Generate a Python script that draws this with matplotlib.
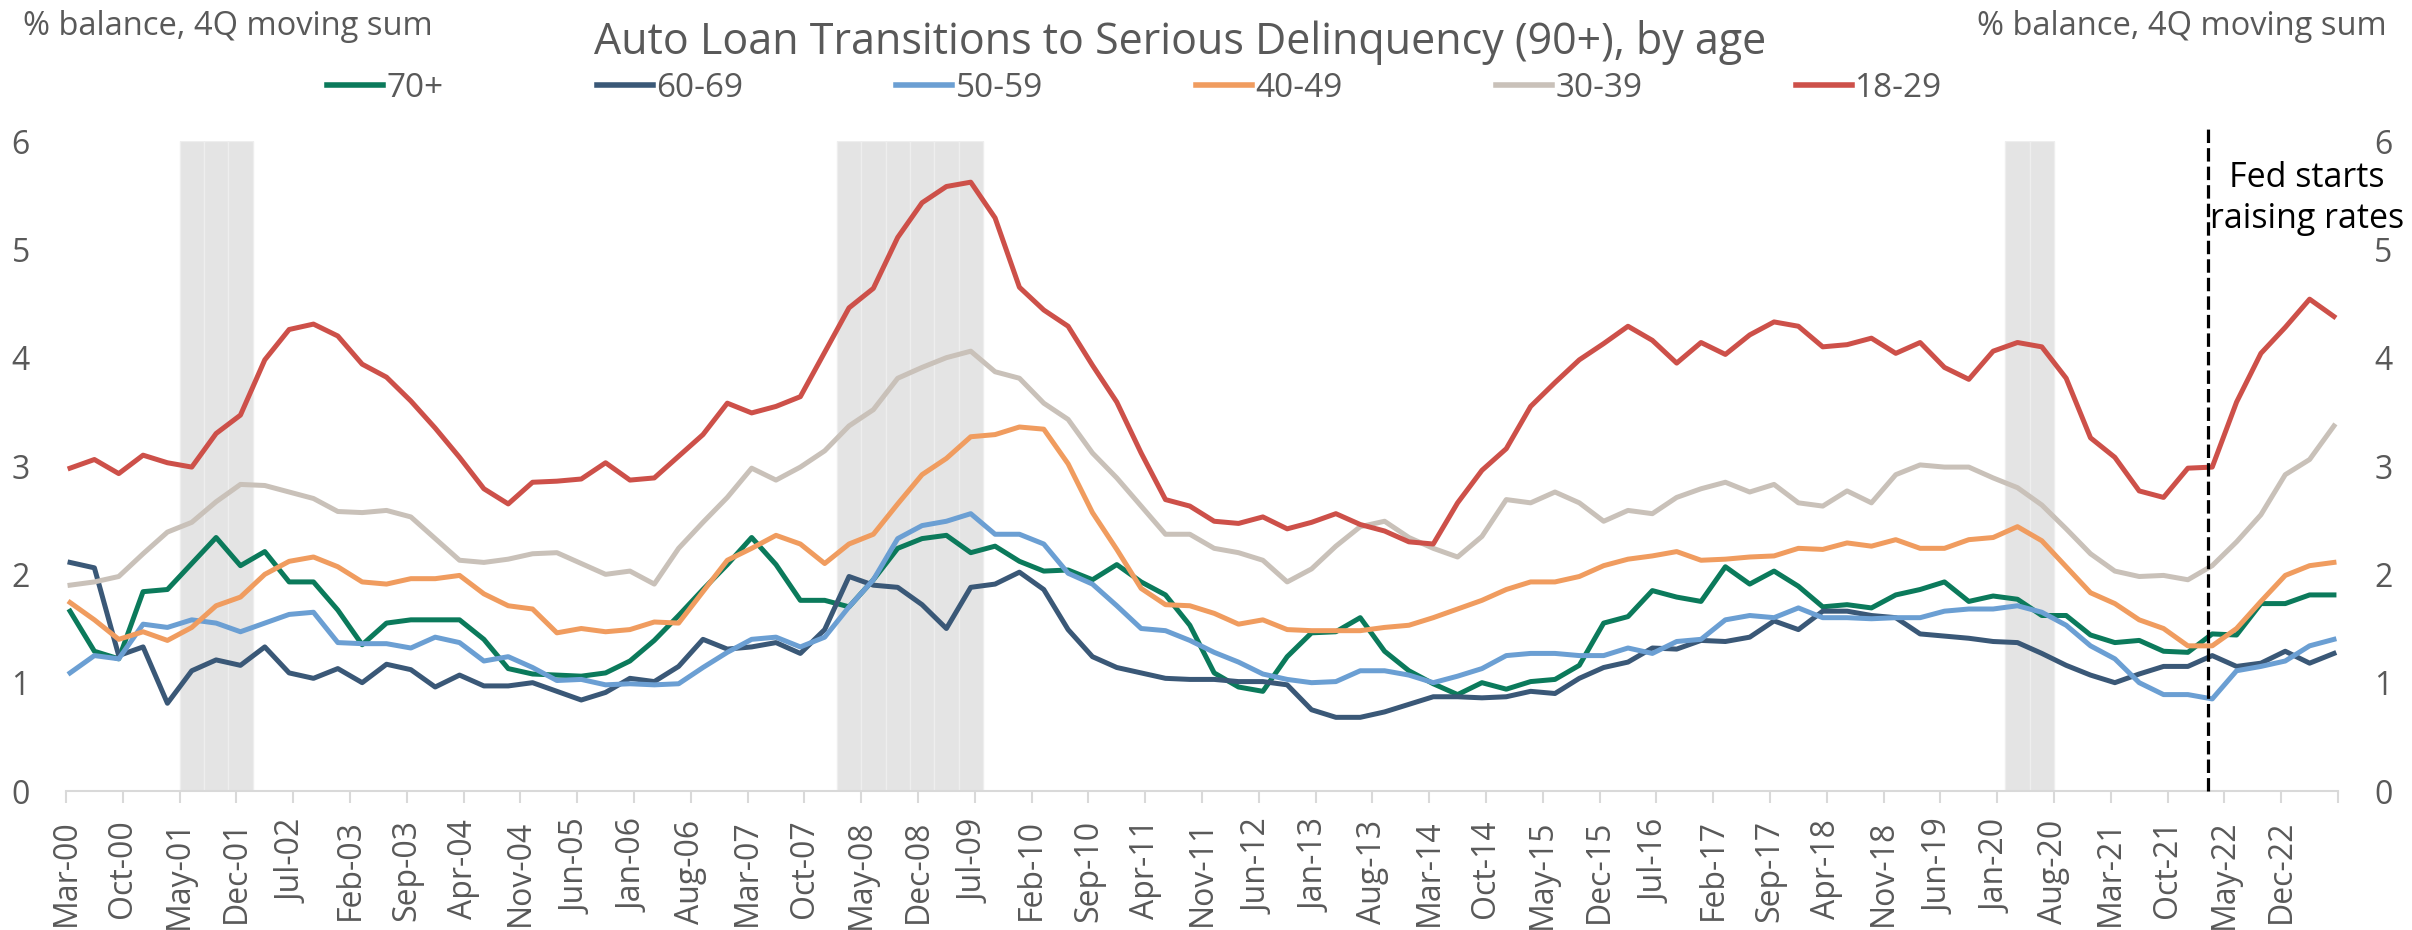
import numpy as np
import matplotlib
matplotlib.use("Agg")
import matplotlib.pyplot as plt

plt.rcParams['font.family'] = ['Open Sans', 'DejaVu Sans']

# quarterly data, 2000Q1 (Mar-00) .. 2023Q2
ages = ["70+", "60-69", "50-59", "40-49", "30-39", "18-29"]
colors = ["#0b7a5b", "#3a5877", "#6b9fd3", "#f09c5f", "#c9c1b9", "#cd5049"]

age_70_plus = [1.66, 1.29, 1.22, 1.84, 1.86, 2.10, 2.34, 2.08, 2.21, 1.93, 1.93, 1.67, 1.35, 1.55, 1.58, 1.58,
               1.58, 1.40, 1.13, 1.08, 1.07, 1.06, 1.09, 1.20, 1.39, 1.62, 1.86, 2.09, 2.34, 2.09, 1.76, 1.76,
               1.70, 1.95, 2.24, 2.33, 2.36, 2.20, 2.26, 2.12, 2.03, 2.04, 1.95, 2.09, 1.93, 1.81, 1.53, 1.09,
               0.96, 0.92, 1.24, 1.46, 1.47, 1.60, 1.29, 1.11, 0.99, 0.89, 1.00, 0.94, 1.01, 1.03, 1.16, 1.55,
               1.61, 1.85, 1.79, 1.75, 2.07, 1.91, 2.03, 1.89, 1.70, 1.72, 1.69, 1.81, 1.86, 1.93, 1.75, 1.80,
               1.77, 1.62, 1.62, 1.44, 1.37, 1.39, 1.29, 1.28, 1.45, 1.44, 1.73, 1.73, 1.81, 1.81]
age_60_69 = [2.11, 2.06, 1.25, 1.33, 0.81, 1.11, 1.21, 1.16, 1.33, 1.09, 1.04, 1.13, 1.00, 1.17, 1.12, 0.96,
             1.07, 0.97, 0.97, 1.00, 0.92, 0.84, 0.91, 1.04, 1.01, 1.15, 1.40, 1.31, 1.33, 1.37, 1.27, 1.49,
             1.98, 1.90, 1.88, 1.72, 1.50, 1.88, 1.91, 2.02, 1.86, 1.49, 1.24, 1.14, 1.09, 1.04, 1.03, 1.03,
             1.01, 1.01, 0.98, 0.75, 0.68, 0.68, 0.73, 0.80, 0.87, 0.87, 0.86, 0.87, 0.92, 0.90, 1.04, 1.14,
             1.19, 1.32, 1.31, 1.39, 1.38, 1.42, 1.57, 1.49, 1.66, 1.66, 1.62, 1.60, 1.45, 1.43, 1.41, 1.38,
             1.37, 1.27, 1.16, 1.07, 1.00, 1.08, 1.15, 1.15, 1.25, 1.15, 1.18, 1.29, 1.18, 1.27]
age_50_59 = [1.09, 1.25, 1.22, 1.54, 1.51, 1.58, 1.55, 1.47, 1.55, 1.63, 1.65, 1.37, 1.36, 1.36, 1.32, 1.42,
             1.37, 1.20, 1.24, 1.14, 1.02, 1.03, 0.98, 0.99, 0.98, 0.99, 1.14, 1.28, 1.40, 1.42, 1.33, 1.42,
             1.70, 1.95, 2.33, 2.45, 2.49, 2.56, 2.37, 2.37, 2.28, 2.01, 1.91, 1.71, 1.50, 1.48, 1.39, 1.28,
             1.19, 1.08, 1.03, 1.00, 1.01, 1.11, 1.11, 1.07, 1.00, 1.06, 1.13, 1.25, 1.27, 1.27, 1.25, 1.25,
             1.32, 1.27, 1.38, 1.40, 1.58, 1.62, 1.60, 1.69, 1.60, 1.60, 1.59, 1.60, 1.60, 1.66, 1.68, 1.68,
             1.71, 1.65, 1.53, 1.34, 1.22, 1.00, 0.89, 0.89, 0.85, 1.11, 1.15, 1.20, 1.34, 1.40]
age_40_49 = [1.74, 1.58, 1.40, 1.47, 1.39, 1.51, 1.71, 1.79, 2.00, 2.12, 2.16, 2.07, 1.93, 1.91, 1.96, 1.96,
             1.99, 1.82, 1.71, 1.68, 1.46, 1.50, 1.47, 1.49, 1.56, 1.55, 1.84, 2.13, 2.24, 2.36, 2.28, 2.10,
             2.28, 2.37, 2.65, 2.92, 3.07, 3.27, 3.29, 3.36, 3.34, 3.02, 2.57, 2.23, 1.87, 1.72, 1.71, 1.64,
             1.54, 1.58, 1.49, 1.48, 1.48, 1.48, 1.51, 1.53, 1.60, 1.68, 1.76, 1.86, 1.93, 1.93, 1.98, 2.08,
             2.14, 2.17, 2.21, 2.13, 2.14, 2.16, 2.17, 2.24, 2.23, 2.29, 2.26, 2.32, 2.24, 2.24, 2.32, 2.34,
             2.44, 2.31, 2.07, 1.83, 1.73, 1.58, 1.50, 1.34, 1.34, 1.50, 1.75, 1.99, 2.08, 2.11]
age_30_39 = [1.90, 1.93, 1.98, 2.19, 2.39, 2.48, 2.67, 2.83, 2.82, 2.76, 2.70, 2.58, 2.57, 2.59, 2.53, 2.33,
             2.13, 2.11, 2.14, 2.19, 2.20, 2.10, 2.00, 2.03, 1.91, 2.24, 2.48, 2.71, 2.98, 2.87, 2.99, 3.14,
             3.37, 3.52, 3.81, 3.91, 4.00, 4.06, 3.87, 3.81, 3.58, 3.43, 3.12, 2.89, 2.63, 2.37, 2.37, 2.24,
             2.20, 2.13, 1.93, 2.05, 2.26, 2.44, 2.49, 2.34, 2.24, 2.16, 2.35, 2.69, 2.66, 2.76, 2.66, 2.49,
             2.59, 2.56, 2.71, 2.79, 2.85, 2.76, 2.83, 2.66, 2.63, 2.77, 2.66, 2.92, 3.01, 2.99, 2.99, 2.89,
             2.80, 2.64, 2.42, 2.19, 2.03, 1.98, 1.99, 1.95, 2.08, 2.30, 2.55, 2.92, 3.06, 3.37]
age_18_29 = [2.98, 3.06, 2.93, 3.10, 3.03, 2.99, 3.30, 3.47, 3.98, 4.26, 4.31, 4.20, 3.94, 3.82, 3.60, 3.35,
             3.08, 2.79, 2.65, 2.85, 2.86, 2.88, 3.03, 2.87, 2.89, 3.09, 3.29, 3.58, 3.49, 3.55, 3.64, 4.05,
             4.46, 4.64, 5.11, 5.43, 5.58, 5.62, 5.29, 4.65, 4.44, 4.29, 3.93, 3.59, 3.12, 2.69, 2.63, 2.49,
             2.47, 2.53, 2.42, 2.48, 2.56, 2.46, 2.40, 2.30, 2.28, 2.66, 2.96, 3.16, 3.55, 3.77, 3.98, 4.13,
             4.29, 4.16, 3.95, 4.14, 4.03, 4.21, 4.33, 4.29, 4.10, 4.12, 4.18, 4.04, 4.14, 3.91, 3.80, 4.06,
             4.14, 4.10, 3.81, 3.26, 3.08, 2.77, 2.71, 2.98, 2.99, 3.59, 4.04, 4.28, 4.54, 4.38]

series = [age_70_plus, age_60_69, age_50_59, age_40_49, age_30_39, age_18_29]

recession_quarters = ["2001Q2", "2001Q3", "2001Q4",
                      "2008Q1", "2008Q2", "2008Q3", "2008Q4", "2009Q1", "2009Q2",
                      "2020Q1", "2020Q2"]
fed_start = (2022, 3)

tick_labels = ["Mar-00", "Oct-00", "May-01", "Dec-01", "Jul-02", "Feb-03", "Sep-03", "Apr-04",
               "Nov-04", "Jun-05", "Jan-06", "Aug-06", "Mar-07", "Oct-07", "May-08", "Dec-08",
               "Jul-09", "Feb-10", "Sep-10", "Apr-11", "Nov-11", "Jun-12", "Jan-13", "Aug-13",
               "Mar-14", "Oct-14", "May-15", "Dec-15", "Jul-16", "Feb-17", "Sep-17", "Apr-18",
               "Nov-18", "Jun-19", "Jan-20", "Aug-20", "Mar-21", "Oct-21", "May-22", "Dec-22"]

txt_grey = "#595959"
axis_grey = "#d9d9d9"

# x in months since Mar-00
n = len(age_18_29)
x = np.arange(n) * 3 + 0.5

fig = plt.figure(figsize=(24.12, 9.3), dpi=100)
ax = fig.add_axes([0.02736, 0.14946, 0.94196, 0.69892])

rec_idx = [(int(q[:4]) - 2000) * 4 + int(q[-1]) - 1 for q in recession_quarters]
ax.bar(x[rec_idx], 6, width=3, color="#e4e4e4", edgecolor="#eeeeee", linewidth=1, zorder=0)

for lab, col, vals in zip(ages, colors, series):
	ax.plot(x, vals, color=col, lw=3.6, label=lab, solid_joinstyle="round", zorder=2)

fed_x = (fed_start[0] - 2000) * 12 + fed_start[1] - 3
ax.axvline(fed_x, ymin=0, ymax=6.13 / 6, color="black", lw=2.3, dashes=(4.2, 1.6), clip_on=False, zorder=3)
ax.text(276.2, 5.47, "Fed starts\nraising rates", ha="center", va="center", fontsize=24.5,
	color="black", linespacing=1.3, zorder=4)

ax.set_xlim(0, 280)
ax.set_ylim(0, 6)
ax.set_xticks(np.arange(0, 281, 7))
ax.set_xticklabels(tick_labels + [""], rotation=90)
ax.set_yticks(range(0, 7))

for s in ["top", "left", "right"]:
	ax.spines[s].set_visible(False)
ax.spines["bottom"].set_color(axis_grey)
ax.spines["bottom"].set_linewidth(1.5)

ax.tick_params(axis="x", direction="out", length=8.5, width=1.5, color=axis_grey,
	labelsize=23, labelcolor=txt_grey, pad=12)
ax.tick_params(axis="y", length=0, labelsize=23, labelcolor=txt_grey, pad=26,
	left=False, right=False, labelleft=True, labelright=True)

fig.text(0.0095, 0.972, "% balance, 4Q moving sum", ha="left", va="center", fontsize=23.5, color=txt_grey)
fig.text(0.9896, 0.972, "% balance, 4Q moving sum", ha="right", va="center", fontsize=23.5, color=txt_grey)
fig.text(0.4892, 0.954, "Auto Loan Transitions to Serious Delinquency (90+), by age", ha="center",
	va="center", fontsize=31, color=txt_grey)

leg = fig.legend(loc="center left", bbox_to_anchor=(327 / 2412, 0.905), ncol=6, frameon=False,
	fontsize=24, handlelength=1.68, handletextpad=0.1, columnspacing=4.6, borderpad=0, borderaxespad=0)
for t in leg.get_texts():
	t.set_color(txt_grey)
for h in leg.get_lines():
	h.set_linewidth(4)

plt.savefig("out.png", dpi=100)
plt.close()
